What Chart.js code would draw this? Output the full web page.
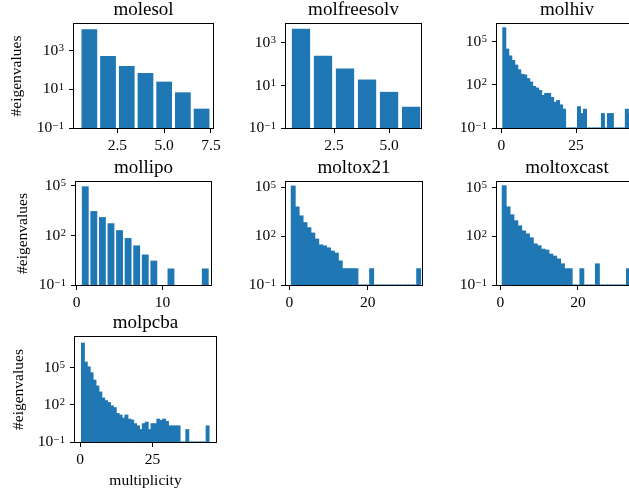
<!DOCTYPE html>
<html>
<head>
<meta charset="utf-8">
<script src="https://cdn.jsdelivr.net/npm/chart.js@4.4.0/dist/chart.umd.min.js"></script>
<style>
  html, body { margin: 0; padding: 0; background: #fff; }
  body { width: 629px; height: 495px; overflow: hidden; position: relative; }
  .panel { position: absolute; }
</style>
</head>
<body>
<script>
// eigenvalue multiplicity histograms
const esolMult = [1, 2, 3, 4, 5, 6, 7];
const esolCount = [13000, 530, 160, 70, 25, 7, 1];

const freesolvMult = [1, 2, 3, 4, 5, 6];
const freesolvCount = [4700, 250, 62, 19, 5, 1];

const hivMult = [1, 2, 3, 4, 5, 6, 7, 8, 9, 10, 11, 12, 13, 14, 15, 16, 17, 18, 19, 20, 21, 22,
  23, 24, 25, 26, 27, 28, 29, 30, 31, 32, 33, 34, 35, 36, 37, 38, 39, 40, 41, 42, 43];
const hivCount = [910000, 30000, 10000, 4900, 2300, 1100, 530, 480, 265, 155, 76, 59, 40, 18, 25, 25,
  13, 6, 8, 4, 2, 0, 0, 0, 0, 3, 1, 2, 0, 0, 0, 0, 0, 1, 0, 1, 1, 0, 0, 0, 0, 2, 1];

const lipoMult = [1, 2, 3, 4, 5, 6, 7, 8, 9, 10, 11, 12, 13, 14, 15];
const lipoCount = [95000, 3000, 1300, 550, 210, 70, 25, 7, 3, 0, 1, 0, 0, 0, 1];

const tox21Mult = [1, 2, 3, 4, 5, 6, 7, 8, 9, 10, 11, 12, 13, 14, 15, 16, 17, 18, 19, 20, 21, 22,
  23, 24, 25, 26, 27, 28, 29, 30, 31, 32, 33];
const tox21Count = [120000, 6200, 1750, 680, 330, 155, 66, 29, 25, 19, 12, 9, 3, 1, 1, 1, 1, 0, 0, 0,
  1, 0, 0, 0, 0, 0, 0, 0, 0, 0, 0, 0, 1];

const toxcastMult = [1, 2, 3, 4, 5, 6, 7, 8, 9, 10, 11, 12, 13, 14, 15, 16, 17, 18, 19, 20, 21, 22,
  23, 24, 25, 26, 27, 28, 29, 30, 31, 32, 33];
const toxcastCount = [130000, 6500, 2100, 900, 440, 215, 140, 80, 34, 26, 16, 14, 8, 6, 4, 2, 1, 1, 0, 0,
  1, 0, 0, 0, 2, 0, 0, 0, 0, 0, 0, 0, 1];

const pcbaMult = [1, 2, 3, 4, 5, 6, 7, 8, 9, 10, 11, 12, 13, 14, 15, 16, 17, 18, 19, 20, 21, 22,
  23, 24, 25, 26, 27, 28, 29, 30, 31, 32, 33, 34, 35, 36, 37, 38, 39, 40, 41, 42, 43, 44];
const pcbaCount = [10000000, 290000, 120000, 40000, 10000, 3400, 1100, 360, 220, 155, 83, 60, 20, 15,
  8.5, 15, 7, 6, 3, 2, 1, 3, 4, 1, 3, 3, 7, 5.5, 7, 4.6, 2, 2, 2, 2, 0, 0, 1, 0, 0, 0, 0, 0, 0, 2];

// tick values
const xTicksHalf = [2.5, 5, 7.5];
const xTicksHalfShort = [2.5, 5];
const xTicks10 = [0, 10];
const xTicks20 = [0, 20];
const xTicks25 = [0, 25];
const yTicksEven = [0.1, 10, 1000];
const yTicksThree = [0.1, 100, 100000];

const FONT = "'Liberation Serif', 'Times New Roman', serif";
const BLUE = '#1f77b4';

// frame round the plot area (matplotlib style box)
const framePlugin = {
  id: 'frame',
  afterDatasetsDraw(chart) {
    const a = chart.chartArea, ctx = chart.ctx;
    ctx.save();
    ctx.strokeStyle = '#000';
    ctx.lineWidth = 1;
    ctx.strokeRect(a.left - 0.5, a.top - 0.5, a.right - a.left + 1, a.bottom - a.top + 1);
    ctx.restore();
  }
};

// 10^n labels on the log axis
const expLabels = {
  id: 'expLabels',
  afterDraw(chart) {
    const s = chart.scales.y, ctx = chart.ctx;
    const xr = s.right - 10;
    ctx.save();
    ctx.fillStyle = '#000';
    s.ticks.forEach(t => {
      const e = Math.round(Math.log10(t.value));
      const ex = e < 0 ? '\u2212' + (-e) : String(e);
      const y = s.getPixelForValue(t.value);
      ctx.font = '10.5px ' + FONT;
      ctx.textAlign = 'right';
      ctx.textBaseline = 'alphabetic';
      const we = ctx.measureText(ex).width;
      ctx.fillText(ex, xr, y + 0.5);
      ctx.font = '15.5px ' + FONT;
      ctx.textBaseline = 'middle';
      ctx.fillText('10', xr - we - 0.5, y);
    });
    ctx.restore();
  }
};

const panels = [
  { name: 'molesol', mult: esolMult, count: esolCount, xMin: 0.18, xMax: 7.61, yMax: Math.pow(10, 4.38),
    xTicks: xTicksHalf, yTicks: yTicksEven, bar: 0.84, box: [74, 213, 24, 128], yTitle: 16.5, dec: true },
  { name: 'molfreesolv', mult: freesolvMult, count: freesolvCount, xMin: 0.32, xMax: 6.45, yMax: Math.pow(10, 3.89),
    xTicks: xTicksHalfShort, yTicks: yTicksEven, bar: 0.83, box: [286, 421, 24, 128], dec: true },
  { name: 'molhiv', mult: hivMult, count: hivCount, xMin: -1.44, xMax: 45.4, yMax: Math.pow(10, 6.22),
    xTicks: xTicks25, yTicks: yTicksThree, bar: 1, box: [497, 637, 24, 128] },
  { name: 'mollipo', mult: lipoMult, count: lipoCount, xMin: -0.08, xMax: 15.67, yMax: Math.pow(10, 5.24),
    xTicks: xTicks10, yTicks: yTicksThree, bar: 0.8, box: [76, 211, 182, 285], yTitle: 23 },
  { name: 'moltox21', mult: tox21Mult, count: tox21Count, xMin: -0.84, xMax: 33.85, yMax: Math.pow(10, 5.33),
    xTicks: xTicks20, yTicks: yTicksThree, bar: 1, box: [286, 422, 182, 285] },
  { name: 'moltoxcast', mult: toxcastMult, count: toxcastCount, xMin: -0.85, xMax: 35.2, yMax: Math.pow(10, 5.35),
    xTicks: xTicks20, yTicks: yTicksThree, bar: 1, box: [497, 637, 182, 285] },
  { name: 'molpcba', mult: pcbaMult, count: pcbaCount, xMin: -1.73, xMax: 46.9, yMax: Math.pow(10, 7.5),
    xTicks: xTicks25, yTicks: yTicksThree, bar: 1, box: [75, 216, 337, 442], yTitle: 18.7, xTitle: 'multiplicity' }
];

function drawPanel(p) {
  const [L, R, T, B] = p.box;
  const lpad = p.yTitle ? L : 60;
  const rpad = 20, tpad = 23;
  const bpad = p.xTitle ? 495 - B : 30;
  const w = lpad + (R - L) + rpad;
  const h = tpad + (B - T) + bpad;

  const wrap = document.createElement('div');
  wrap.className = 'panel';
  wrap.style.left = (L - lpad) + 'px';
  wrap.style.top = (T - tpad) + 'px';
  const cv = document.createElement('canvas');
  cv.width = w; cv.height = h;
  cv.style.width = w + 'px'; cv.style.height = h + 'px';
  wrap.appendChild(cv);
  document.body.appendChild(wrap);

  const labelFont = { family: FONT, size: 15.5 };
  const isHist = p.bar === 1;

  new Chart(cv, {
    type: 'bar',
    data: {
      labels: p.mult,
      datasets: [{
        data: p.count,
        backgroundColor: BLUE,
        borderWidth: 0,
        barPercentage: p.bar,
        categoryPercentage: 1,
        inflateAmount: isHist ? 0.5 : 0
      }]
    },
    options: {
      responsive: false,
      animation: false,
      events: [],
      layout: { padding: { left: 0, right: rpad, top: 0, bottom: 0 } },
      plugins: {
        legend: { display: false },
        tooltip: { enabled: false },
        title: {
          display: true, text: p.name, color: '#000', fullSize: false, align: 'center',
          font: { family: FONT, size: 19, weight: 'normal', lineHeight: 1 },
          padding: { top: 0, bottom: 4 }
        }
      },
      scales: {
        x: {
          type: 'linear', bounds: 'data', offset: false, min: p.xMin, max: p.xMax,
          afterBuildTicks: s => { s.ticks = p.xTicks.map(v => ({ value: v })); },
          afterFit: s => { s.height = bpad; },
          grid: { drawOnChartArea: false, drawTicks: true, tickLength: 5, color: '#000', offset: false },
          border: { display: false },
          ticks: {
            color: '#000', font: labelFont, padding: 4, maxRotation: 0, autoSkip: false,
            callback: v => p.dec ? v.toFixed(1) : String(v)
          },
          title: {
            display: !!p.xTitle, text: p.xTitle || '', color: '#000', font: labelFont,
            padding: { top: 0, bottom: 5 }
          }
        },
        y: {
          type: 'logarithmic', bounds: 'data', min: 0.1, max: p.yMax,
          afterBuildTicks: s => { s.ticks = p.yTicks.map(v => ({ value: v })); },
          afterFit: s => { s.width = lpad; },
          grid: { drawOnChartArea: false, drawTicks: true, tickLength: 5, color: '#000' },
          border: { display: false },
          ticks: { display: false },
          title: {
            display: !!p.yTitle, text: '#eigenvalues', color: '#000', font: labelFont,
            padding: { top: p.yTitle ? p.yTitle - 9.3 : 0, bottom: 0 }
          }
        }
      }
    },
    plugins: [framePlugin, expLabels]
  });
}

panels.forEach(drawPanel);
</script>
</body>
</html>
